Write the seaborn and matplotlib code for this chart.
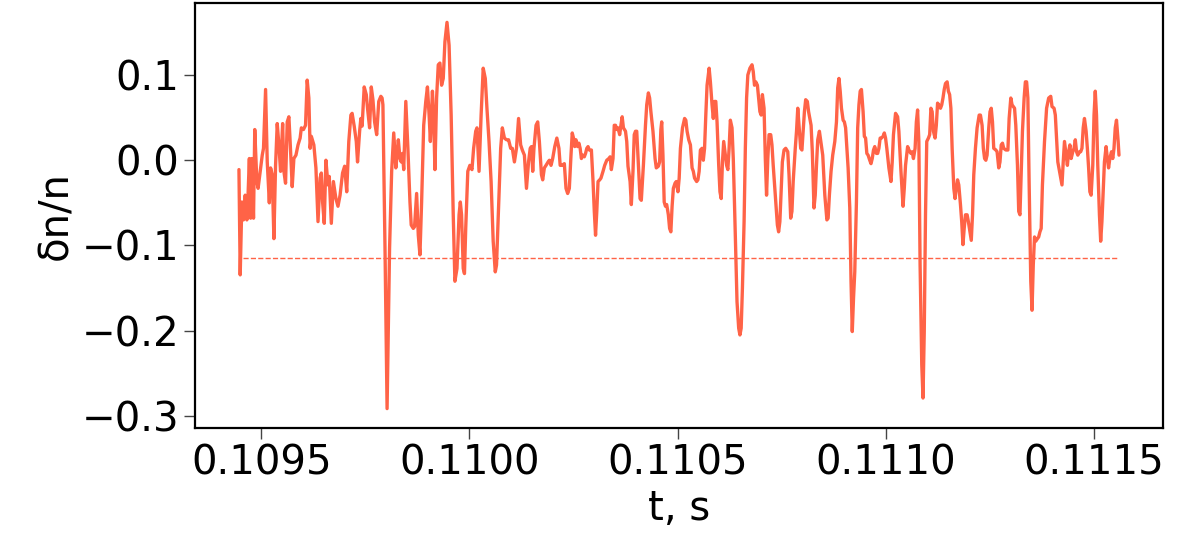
import numpy as np
import pandas as pd
import matplotlib
matplotlib.use("Agg")
import matplotlib.pyplot as plt
import seaborn as sns

# time, s (vertices of the trace)
t_s = [
    0.109446, 0.109449, 0.109453, 0.109457, 0.109461, 0.109465, 0.109468, 0.109471, 0.109474, 0.109477,
    0.109481, 0.109484, 0.109489, 0.109492, 0.109497, 0.109502, 0.109505, 0.109510, 0.109514, 0.109519,
    0.109522, 0.109526, 0.109530, 0.109534, 0.109538, 0.109542, 0.109546, 0.109551, 0.109554, 0.109558,
    0.109562, 0.109566, 0.109569, 0.109574, 0.109578, 0.109583, 0.109588, 0.109593, 0.109596, 0.109601,
    0.109606, 0.109610, 0.109614, 0.109617, 0.109620, 0.109626, 0.109631, 0.109636, 0.109641, 0.109644,
    0.109647, 0.109651, 0.109655, 0.109660, 0.109663, 0.109668, 0.109673, 0.109679, 0.109684, 0.109689,
    0.109695, 0.109700, 0.109705, 0.109710, 0.109715, 0.109718, 0.109723, 0.109728, 0.109731, 0.109736,
    0.109739, 0.109742, 0.109747, 0.109752, 0.109755, 0.109760, 0.109764, 0.109768, 0.109772, 0.109777,
    0.109782, 0.109787, 0.109790,
    0.109792, 0.109797, 0.109802, 0.109808, 0.109813, 0.109818, 0.109823, 0.109826, 0.109829, 0.109833,
    0.109836, 0.109839, 0.109842, 0.109847, 0.109852, 0.109857, 0.109860, 0.109865, 0.109868, 0.109873,
    0.109877, 0.109881, 0.109885, 0.109890, 0.109895, 0.109899, 0.109903, 0.109906, 0.109911, 0.109914,
    0.109917, 0.109921, 0.109925, 0.109929, 0.109933, 0.109937, 0.109941, 0.109946, 0.109951, 0.109956,
    0.109961, 0.109965, 0.109970, 0.109975, 0.109978, 0.109981, 0.109985, 0.109988, 0.109991, 0.109996,
    0.110001, 0.110006, 0.110010, 0.110015, 0.110018, 0.110023, 0.110028, 0.110033, 0.110038, 0.110042,
    0.110047, 0.110052, 0.110057, 0.110062, 0.110065, 0.110070, 0.110075, 0.110079, 0.110084, 0.110089,
    0.110094, 0.110099, 0.110103, 0.110108, 0.110113, 0.110118, 0.110123, 0.110127, 0.110132, 0.110137,
    0.110142,
    0.110146, 0.110149, 0.110152, 0.110155, 0.110160, 0.110164, 0.110168, 0.110173, 0.110176, 0.110180,
    0.110184, 0.110189, 0.110192, 0.110196, 0.110200, 0.110205, 0.110210, 0.110215, 0.110218, 0.110223,
    0.110228, 0.110232, 0.110236, 0.110240, 0.110244, 0.110247, 0.110250, 0.110253, 0.110256, 0.110260,
    0.110263, 0.110266, 0.110269, 0.110272, 0.110276, 0.110279, 0.110282, 0.110285, 0.110288, 0.110293,
    0.110297, 0.110300, 0.110303, 0.110306, 0.110309, 0.110313, 0.110316, 0.110321, 0.110325, 0.110330,
    0.110335, 0.110338, 0.110341, 0.110345, 0.110348, 0.110351, 0.110354, 0.110357, 0.110361, 0.110364,
    0.110367, 0.110370, 0.110375, 0.110378, 0.110381, 0.110386, 0.110389, 0.110393, 0.110396, 0.110399,
    0.110402, 0.110407, 0.110410, 0.110413, 0.110418, 0.110423, 0.110426, 0.110430, 0.110433, 0.110436,
    0.110441, 0.110446, 0.110449, 0.110454, 0.110457, 0.110460, 0.110462, 0.110465, 0.110468, 0.110471,
    0.110474, 0.110478, 0.110481, 0.110484, 0.110487, 0.110490, 0.110494, 0.110497,
    0.110501, 0.110504, 0.110507, 0.110512, 0.110517, 0.110520, 0.110523, 0.110527, 0.110531, 0.110535,
    0.110538, 0.110541, 0.110546, 0.110549, 0.110552, 0.110555, 0.110559, 0.110562, 0.110565, 0.110568,
    0.110571, 0.110576, 0.110579, 0.110583, 0.110586, 0.110589, 0.110592, 0.110595, 0.110599, 0.110602,
    0.110605, 0.110608, 0.110611, 0.110615, 0.110618, 0.110621, 0.110624, 0.110627, 0.110631, 0.110634,
    0.110637, 0.110640, 0.110643, 0.110647, 0.110650, 0.110653, 0.110656, 0.110660, 0.110663, 0.110666,
    0.110669, 0.110674, 0.110679, 0.110682, 0.110685, 0.110688, 0.110692, 0.110695, 0.110698, 0.110701,
    0.110704, 0.110708, 0.110711, 0.110714, 0.110717, 0.110720, 0.110724, 0.110727, 0.110730, 0.110735,
    0.110740, 0.110743, 0.110746, 0.110749, 0.110752, 0.110756, 0.110760, 0.110765, 0.110768, 0.110772,
    0.110775, 0.110778, 0.110783, 0.110786, 0.110789, 0.110792, 0.110796, 0.110799, 0.110802, 0.110805,
    0.110808, 0.110812, 0.110815, 0.110818, 0.110821, 0.110824, 0.110828, 0.110831, 0.110834, 0.110837,
    0.110841,
    0.110849, 0.110854, 0.110859, 0.110862, 0.110865, 0.110869, 0.110873, 0.110878, 0.110882, 0.110885,
    0.110888, 0.110891, 0.110894, 0.110898, 0.110901, 0.110904, 0.110907, 0.110910, 0.110914, 0.110917,
    0.110920, 0.110923, 0.110926, 0.110930, 0.110933, 0.110936, 0.110939, 0.110942, 0.110946, 0.110949,
    0.110952, 0.110955, 0.110958, 0.110962, 0.110965, 0.110968, 0.110971, 0.110974, 0.110978, 0.110981,
    0.110984, 0.110987, 0.110990, 0.110994, 0.110997, 0.111000, 0.111003, 0.111008, 0.111013, 0.111016,
    0.111019, 0.111024, 0.111029, 0.111032, 0.111037, 0.111042, 0.111045, 0.111048, 0.111053, 0.111058,
    0.111061, 0.111064, 0.111067, 0.111071, 0.111074, 0.111077, 0.111080, 0.111083, 0.111087, 0.111090,
    0.111093, 0.111096, 0.111099, 0.111103, 0.111106, 0.111109, 0.111112, 0.111115, 0.111119, 0.111122,
    0.111125, 0.111128, 0.111132, 0.111135, 0.111138, 0.111141, 0.111144, 0.111148, 0.111151, 0.111154,
    0.111157, 0.111160, 0.111164, 0.111167, 0.111170, 0.111173, 0.111176, 0.111180, 0.111183, 0.111186,
    0.111189, 0.111192, 0.111196, 0.111199,
    0.111206, 0.111209, 0.111212, 0.111216, 0.111220, 0.111225, 0.111228, 0.111232, 0.111235, 0.111238,
    0.111241, 0.111244, 0.111248, 0.111251, 0.111254, 0.111257, 0.111260, 0.111265, 0.111268, 0.111272,
    0.111275, 0.111278, 0.111281, 0.111284, 0.111289, 0.111294, 0.111297, 0.111301, 0.111304, 0.111307,
    0.111310, 0.111313, 0.111317, 0.111320, 0.111323, 0.111326, 0.111329, 0.111333, 0.111336, 0.111339,
    0.111342, 0.111345, 0.111349, 0.111352, 0.111355, 0.111358, 0.111361, 0.111365, 0.111368, 0.111371,
    0.111374, 0.111377, 0.111382, 0.111387, 0.111392, 0.111397, 0.111400, 0.111405, 0.111408, 0.111411,
    0.111414, 0.111418, 0.111421, 0.111424, 0.111427, 0.111430, 0.111434, 0.111437, 0.111440, 0.111443,
    0.111446, 0.111450, 0.111453, 0.111456, 0.111459, 0.111462, 0.111466, 0.111469, 0.111472, 0.111475,
    0.111478, 0.111482, 0.111485, 0.111488, 0.111491, 0.111494, 0.111498, 0.111501, 0.111504, 0.111507,
    0.111510, 0.111514, 0.111517, 0.111520, 0.111523, 0.111526, 0.111530, 0.111533, 0.111536, 0.111539,
    0.111543, 0.111546, 0.111549, 0.111552, 0.111555, 0.111559, 0.111561,
]

# dn/n at those times
dn_n = [
    -0.011, -0.1345, -0.049, -0.070, -0.041, -0.070, -0.039, 0.002, -0.068, 0.002,
    -0.068, 0.036, -0.025, -0.033, -0.013, 0.006, 0.014, 0.083, -0.002, -0.050,
    -0.009, -0.017, -0.092, -0.006, 0.043, 0.018, -0.013, 0.043, -0.013, -0.027,
    0.045, 0.051, 0.022, -0.031, 0.002, 0.006, 0.018, 0.026, 0.038, 0.036,
    0.041, 0.094, 0.073, 0.014, 0.028, 0.018, -0.009, -0.072, -0.021, -0.015,
    -0.049, -0.074, 0.000, -0.029, -0.019, -0.074, -0.025, -0.045, -0.054, -0.041,
    -0.015, -0.007, -0.037, 0.022, 0.053, 0.055, 0.040, 0.022, -0.002, 0.034,
    0.049, 0.040, 0.086, 0.077, 0.061, 0.038, 0.086, 0.071, 0.045, 0.030,
    0.069, 0.075, 0.073,
    0.065, -0.103, -0.2914, -0.103, -0.013, 0.032, -0.009, 0.006, 0.024, 0.002,
    -0.002, 0.008, -0.011, 0.069, 0.014, -0.049, -0.076, -0.080, -0.078, -0.039,
    -0.088, -0.111, -0.049, 0.041, 0.069, 0.086, 0.053, 0.022, 0.081, 0.049,
    -0.011, 0.073, 0.112, 0.114, 0.088, 0.096, 0.139, 0.1618, 0.135, 0.053,
    -0.064, -0.142, -0.127, -0.064, -0.049, -0.064, -0.127, -0.133, -0.080, -0.013,
    -0.006, -0.011, 0.014, 0.034, 0.038, -0.013, 0.053, 0.108, 0.096, 0.061,
    0.022, -0.025, -0.095, -0.131, -0.123, -0.056, 0.014, 0.038, 0.026, 0.024,
    0.024, 0.014, 0.014, -0.002, 0.014, 0.049, 0.018, 0.012, 0.006, -0.033,
    -0.002,
    0.014, 0.016, -0.013, 0.014, 0.041, 0.045, 0.022, -0.017, -0.023, -0.009,
    -0.006, -0.002, 0.000, -0.006, 0.002, 0.016, 0.026, 0.014, -0.006, -0.006,
    -0.004, -0.033, -0.039, -0.033, 0.006, 0.032, 0.026, 0.016, 0.024, 0.016,
    0.020, 0.014, 0.002, 0.006, 0.004, 0.008, 0.014, 0.016, 0.012, 0.012,
    -0.025, -0.060, -0.088, -0.060, -0.025, -0.023, -0.021, -0.013, -0.006, 0.000,
    0.002, 0.004, -0.011, 0.002, 0.041, 0.041, 0.036, 0.038, 0.030, 0.041,
    0.051, 0.038, 0.034, 0.022, -0.007, -0.025, -0.052, -0.013, 0.030, 0.034,
    0.034, -0.017, -0.045, -0.047, -0.006, 0.041, 0.065, 0.079, 0.073, 0.057,
    0.034, 0.002, -0.009, -0.007, -0.002, 0.036, 0.045, 0.006, -0.049, -0.054,
    -0.052, -0.064, -0.080, -0.084, -0.054, -0.033, -0.027, -0.025,
    -0.037, -0.021, 0.014, 0.038, 0.049, 0.047, 0.034, 0.024, 0.018, -0.009,
    -0.013, -0.021, -0.025, -0.023, -0.013, 0.012, 0.014, 0.000, 0.014, 0.053,
    0.088, 0.108, 0.092, 0.065, 0.049, 0.069, 0.069, 0.045, -0.006, -0.037,
    -0.045, -0.002, 0.022, 0.006, -0.006, -0.011, 0.014, 0.047, 0.038, 0.002,
    -0.052, -0.111, -0.166, -0.197, -0.205, -0.197, -0.150, -0.072, 0.014, 0.073,
    0.100, 0.108, 0.112, 0.104, 0.088, 0.092, 0.088, 0.073, 0.057, 0.053,
    0.077, 0.061, 0.002, -0.041, 0.002, 0.030, 0.030, 0.018, -0.006, -0.041,
    -0.076, -0.084, -0.072, -0.037, -0.002, 0.012, 0.014, 0.010, -0.017, -0.068,
    -0.060, -0.025, 0.014, 0.034, 0.061, 0.041, 0.014, 0.012, 0.034, 0.057,
    0.071, 0.069, 0.057, 0.049, 0.041, 0.010, -0.056, -0.041, -0.006, 0.024,
    0.034,
    0.006, -0.041, -0.070, -0.068, -0.041, -0.013, 0.006, 0.022, 0.045, 0.085,
    0.096, 0.081, 0.061, 0.047, 0.045, 0.038, 0.014, -0.009, -0.056, -0.142,
    -0.201, -0.162, -0.131, -0.049, 0.038, 0.065, 0.081, 0.083, 0.057, 0.028,
    0.026, 0.008, 0.006, 0.000, -0.004, 0.002, 0.012, 0.016, 0.008, 0.008,
    0.014, 0.026, 0.026, 0.028, 0.032, 0.026, 0.014, -0.009, -0.025, -0.002,
    0.030, 0.055, 0.051, 0.034, -0.013, -0.054, -0.033, -0.006, 0.016, 0.010,
    0.008, 0.010, 0.002, 0.014, 0.045, 0.059, 0.022, -0.123, -0.240, -0.279,
    -0.201, -0.064, 0.022, 0.026, 0.030, 0.061, 0.057, 0.034, 0.026, 0.041,
    0.067, 0.065, 0.061, 0.065, 0.073, 0.083, 0.090, 0.092, 0.081, 0.077,
    0.061, 0.014, -0.033, -0.045, -0.033, -0.023, -0.029, -0.052, -0.072, -0.099,
    -0.080, -0.064, -0.064, -0.072,
    -0.094, -0.064, -0.017, 0.014, 0.038, 0.053, 0.053, 0.041, 0.014, 0.002,
    0.000, 0.006, 0.038, 0.057, 0.061, 0.045, 0.014, 0.012, 0.010, -0.009,
    -0.002, 0.018, 0.020, 0.014, 0.012, 0.012, 0.049, 0.073, 0.065, 0.063,
    0.061, 0.041, -0.006, -0.060, -0.064, -0.017, 0.034, 0.073, 0.092, 0.092,
    0.073, -0.025, -0.142, -0.176, -0.123, -0.090, -0.095, -0.092, -0.090, -0.084,
    -0.080, -0.029, 0.022, 0.061, 0.073, 0.075, 0.063, 0.061, 0.053, 0.026,
    -0.002, -0.013, -0.021, -0.029, -0.002, 0.022, 0.006, -0.006, 0.010, 0.018,
    0.002, 0.010, 0.014, 0.024, 0.010, 0.006, 0.010, 0.010, 0.014, 0.038,
    0.049, 0.034, 0.014, -0.009, -0.037, -0.041, -0.006, 0.053, 0.081, 0.053,
    -0.006, -0.064, -0.095, -0.072, -0.037, -0.002, 0.016, 0.002, -0.009, 0.002,
    0.010, 0.002, 0.014, 0.038, 0.047, 0.022, 0.006,
]

# dashed threshold level and its extent
thr_level = -0.115
thr_t = [0.109455, 0.111559]

x_ticks = [0.1095, 0.1100, 0.1105, 0.1110, 0.1115]
y_ticks = [-0.3, -0.2, -0.1, 0.0, 0.1]

sns.set_style("ticks")
plt.rcParams["font.family"] = ["DejaVu Sans"]
plt.rcParams["text.color"] = "black"
plt.rcParams["axes.labelcolor"] = "black"

df = pd.DataFrame({"t": t_s, "dn": dn_n})

fig = plt.figure(figsize=(11.96, 5.5), dpi=100)
ax = fig.add_axes([0.163, 0.222, 0.8094, 0.7725])

sns.lineplot(data=df, x="t", y="dn", ax=ax, color="tomato",
             linewidth=2.4, estimator=None, sort=False)
ax.hlines(thr_level, thr_t[0], thr_t[1], colors="tomato",
          linestyles="--", linewidth=1.0)

ax.set_xticks(x_ticks)
ax.set_yticks(y_ticks)
ax.ticklabel_format(useOffset=False)
ax.tick_params(labelsize=29, length=8, width=1, direction="out",
               color="#444444", labelcolor="black")
ax.set_xlabel("t, s", fontsize=29, color="black")
ax.set_ylabel("δn/n", fontsize=29, color="black")

for sp in ax.spines.values():
    sp.set_linewidth(1.6)
    sp.set_color("black")

fig.savefig("out.png", dpi=100)
